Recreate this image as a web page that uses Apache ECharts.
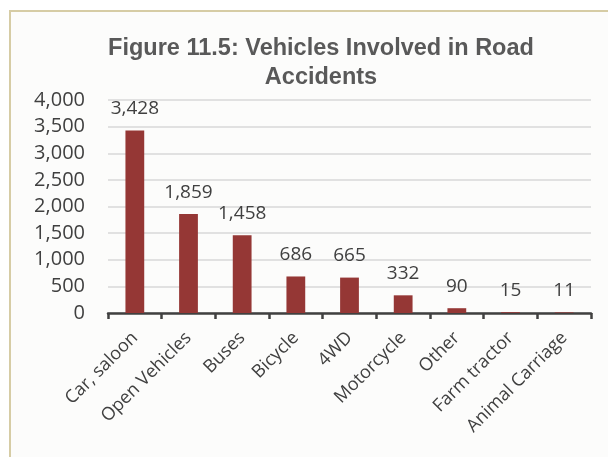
<!DOCTYPE html>
<html>
<head>
<meta charset="utf-8">
<script src="https://cdn.jsdelivr.net/npm/echarts@6/dist/echarts.min.js"></script>
<style>html,body{margin:0;padding:0;background:#fff}#c{width:608px;height:457px}</style>
</head>
<body>
<div id="c"></div>
<script>
const categories = ["Car, saloon","Open Vehicles","Buses","Bicycle","4WD","Motorcycle","Other","Farm tractor","Animal Carriage"];
const values = [3428, 1859, 1458, 686, 665, 332, 90, 15, 11];
const titleText = "Figure 11.5: Vehicles Involved in Road\nAccidents";

const chart = echarts.init(document.getElementById('c'), null, {renderer:'canvas'});
const numFont = '"Open Sans", sans-serif';
chart.setOption({
  backgroundColor: '#ffffff',
  animation: false,
  graphic: [{
    type: 'rect', z: -10, silent: true,
    shape: {x: 10, y: 11, width: 640, height: 500},
    style: {fill: '#fcfcfb', stroke: '#d6cca5', lineWidth: 2}
  }],
  title: {
    text: titleText,
    left: 316, top: 29, textAlign: 'center',
    textStyle: {fontFamily: '"Liberation Sans", Arial, sans-serif', fontWeight: 'bold', fontSize: 23.5, color: '#595959', lineHeight: 29}
  },
  grid: {left: 108, right: 17, top: 100, height: 213, containLabel: false},
  xAxis: {
    type: 'category', data: categories,
    axisLine: {lineStyle: {color: '#404040', width: 2.5}},
    axisTick: {show: true, length: 6, lineStyle: {color: '#404040', width: 2.5}},
    axisLabel: {rotate: 45, margin: 22, color: '#404040', fontSize: 18, fontFamily: numFont, interval: 0}
  },
  yAxis: {
    type: 'value', min: 0, max: 4000, interval: 500,
    axisLine: {show: false}, axisTick: {show: false},
    splitLine: {lineStyle: {color: '#d9d9d9', width: 1.5}},
    axisLabel: {margin: 23, color: '#404040', fontSize: 20, fontFamily: numFont,
      formatter: v => v.toLocaleString('en-US')}
  },
  series: [{
    type: 'bar', data: values, barWidth: '35%',
    itemStyle: {color: '#953735'},
    label: {show: true, position: 'top', distance: 12, color: '#404040', fontSize: 19, fontFamily: numFont,
      formatter: p => p.value.toLocaleString('en-US')}
  }]
});
</script>
</body>
</html>
